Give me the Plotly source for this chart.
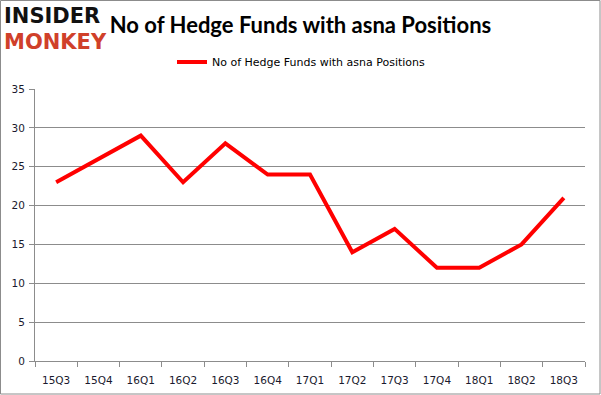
import plotly.graph_objects as go

quarters = ["15Q3", "15Q4", "16Q1", "16Q2", "16Q3", "16Q4", "17Q1",
            "17Q2", "17Q3", "17Q4", "18Q1", "18Q2", "18Q3"]
funds = [23, 26, 29, 23, 28, 24, 24, 14, 17, 12, 12, 15, 21]
y_ticks = [0, 5, 10, 15, 20, 25, 30, 35]
series_name = "No of Hedge Funds with asna Positions"

W, H = 601, 395
L, R, T, B = 35, 16, 89, 34
pw, ph = W - L - R, H - T - B


def px_x(x):
    return (x - L) / pw


def px_y(y):
    return (H - B - y) / ph


fig = go.Figure()
fig.add_trace(go.Scatter(
    x=quarters, y=funds, mode="lines", name=series_name,
    line=dict(color="#ff0000", width=4),
))

fig.update_layout(
    width=W, height=H,
    margin=dict(l=L, r=R, t=T, b=B),
    paper_bgcolor="white", plot_bgcolor="white",
    title=dict(text="<b>No of Hedge Funds with asna Positions</b>",
               x=0.5, xanchor="center", y=1 - 25 / H, yanchor="middle",
               font=dict(family="Lato", size=22, color="#000000")),
    showlegend=True,
    legend=dict(orientation="h", x=px_x(172), xanchor="left", y=px_y(62), yanchor="middle",
                font=dict(family="DejaVu Sans", size=11, color="#000000"),
                bgcolor="rgba(0,0,0,0)"),
    font=dict(family="DejaVu Sans", size=10.5, color="#333333"),
)

fig.update_xaxes(
    type="category", range=[-0.5, len(quarters) - 0.5], automargin=False,
    showgrid=False, showline=True, linecolor="#8c8c8c", linewidth=1,
    ticks="outside", tickson="boundaries", ticklen=5, tickcolor="#8c8c8c",
    ticklabelstandoff=9,
    tickfont=dict(family="DejaVu Sans", size=10.5, color="#1a1a2e"),
)
fig.update_yaxes(
    range=[0, 35], tickvals=y_ticks, showgrid=True, gridcolor="#8c8c8c", gridwidth=1,
    showline=True, linecolor="#8c8c8c", linewidth=1, ticks="outside", ticklen=5,
    tickcolor="#8c8c8c", zeroline=False, ticklabelstandoff=2, automargin=False,
    tickfont=dict(family="DejaVu Sans", size=10.5, color="#1a1a2e"),
)

# outer border
fig.add_shape(type="rect", xref="paper", yref="paper",
              x0=px_x(0.5), x1=px_x(600), y0=px_y(394), y1=px_y(0.5),
              line=dict(color="#8c8c8c", width=1), fillcolor="rgba(0,0,0,0)", layer="below")

# logo
fig.add_annotation(text="<b>INSIDER</b>", xref="paper", yref="paper",
                   x=px_x(3), y=px_y(29), xanchor="left", yanchor="bottom", showarrow=False,
                   borderpad=0,
                   font=dict(family="DejaVu Sans", size=21, color="#111111"))
fig.add_annotation(text="<b>MONKEY</b>", xref="paper", yref="paper",
                   x=px_x(3), y=px_y(29), xanchor="left", yanchor="top", showarrow=False,
                   borderpad=0,
                   font=dict(family="DejaVu Sans", size=21, color="#d0402a"))

fig.write_html("out.html", config={"displayModeBar": False},
               post_script="document.body.style.margin='0';")
